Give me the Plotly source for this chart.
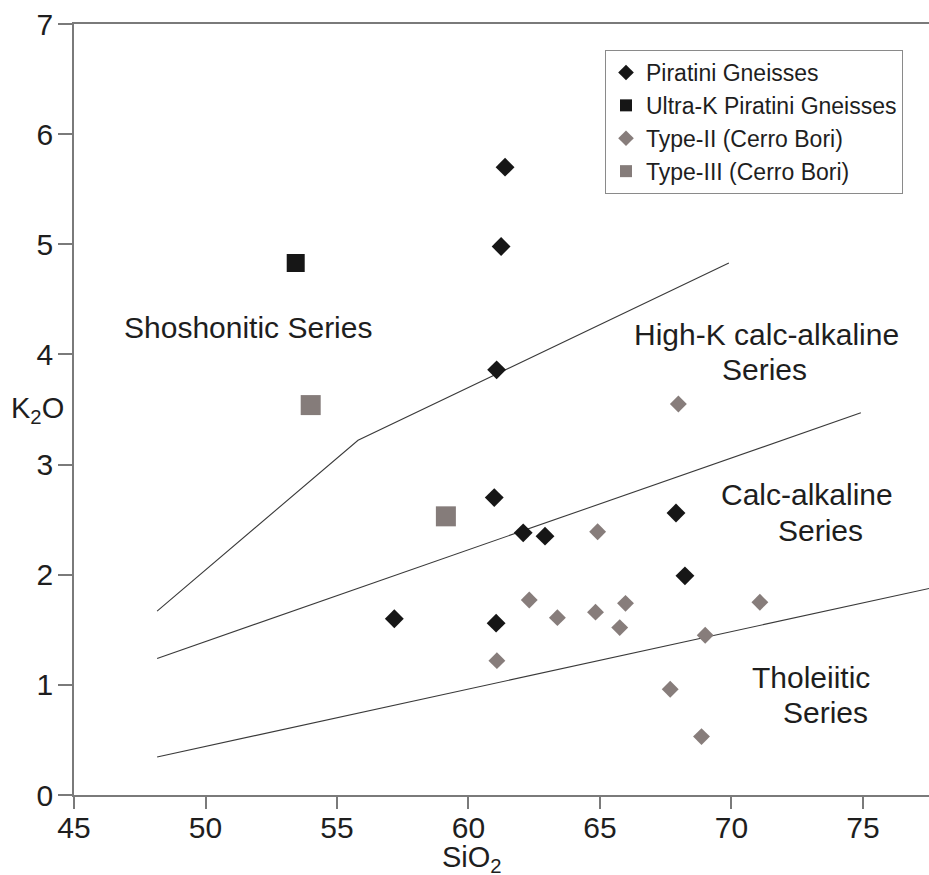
import plotly.graph_objects as go

# --- data ---
piratini_x = [61.39, 61.24, 61.07, 60.98, 62.08, 62.91, 67.89, 68.23, 57.18, 61.05]
piratini_y = [5.70, 4.98, 3.86, 2.70, 2.38, 2.35, 2.56, 1.99, 1.60, 1.56]

ultra_x = [53.43]
ultra_y = [4.83]

type2_x = [67.98, 64.91, 62.31, 63.38, 64.83, 65.97, 65.75, 69.00, 71.08, 61.08, 67.67, 68.86]
type2_y = [3.55, 2.39, 1.77, 1.61, 1.66, 1.74, 1.52, 1.45, 1.75, 1.22, 0.96, 0.53]

type3_x = [54.00, 59.14]
type3_y = [3.54, 2.53]

# series boundary lines
b1_x = [48.16, 55.8, 69.9]
b1_y = [1.67, 3.22, 4.83]
b2_x = [48.16, 74.92]
b2_y = [1.24, 3.47]
b3_x = [48.16, 77.6]
b3_y = [0.345, 1.88]

x_ticks = [45, 50, 55, 60, 65, 70, 75]
y_ticks = [0, 1, 2, 3, 4, 5, 6, 7]

FONT = "Liberation Sans, Arial, sans-serif"
TXT = "#1e1e1e"
AX = "#7a7a7a"
LINE = "#3a3a3a"

fig = go.Figure()

for bx, by in [(b1_x, b1_y), (b2_x, b2_y), (b3_x, b3_y)]:
    fig.add_trace(go.Scatter(x=bx, y=by, mode="lines",
                             line=dict(color=LINE, width=1.1),
                             showlegend=False, hoverinfo="skip"))

fig.add_trace(go.Scatter(x=piratini_x, y=piratini_y, mode="markers",
                         name="Piratini Gneisses",
                         marker=dict(symbol="diamond", size=14.5, color="#161616")))
fig.add_trace(go.Scatter(x=ultra_x, y=ultra_y, mode="markers",
                         name="Ultra-K Piratini Gneisses",
                         marker=dict(symbol="square", size=18, color="#161616")))
fig.add_trace(go.Scatter(x=type2_x, y=type2_y, mode="markers",
                         name="Type-II (Cerro Bori)",
                         marker=dict(symbol="diamond", size=13, color="#877d7b")))
fig.add_trace(go.Scatter(x=type3_x, y=type3_y, mode="markers",
                         name="Type-III (Cerro Bori)",
                         marker=dict(symbol="square", size=20, color="#857c7a")))

labels = [
    ("Shoshonitic Series", 51.6, 4.24),
    ("High-K calc-alkaline", 71.35, 4.18),
    ("Series", 71.25, 3.86),
    ("Calc-alkaline", 72.87, 2.725),
    ("Series", 73.40, 2.405),
    ("Tholeiitic", 73.02, 1.07),
    ("Series", 73.56, 0.75),
]
for t, x, y in labels:
    fig.add_annotation(x=x, y=y, text=t, showarrow=False,
                       font=dict(family=FONT, size=30, color=TXT),
                       xanchor="center", yanchor="middle")

# axis titles
fig.add_annotation(xref="paper", yref="paper", x=(472 - 74) / 855, y=(795 - 859) / 771,
                   text="SiO<sub>2</sub>", showarrow=False,
                   font=dict(family=FONT, size=29, color=TXT),
                   xanchor="center", yanchor="middle")
fig.add_annotation(xref="paper", yref="paper", x=(37 - 74) / 855, y=(795 - 410) / 771,
                   text="K<sub>2</sub>O", showarrow=False,
                   font=dict(family=FONT, size=29, color=TXT),
                   xanchor="center", yanchor="middle")

fig.update_xaxes(range=[45, 77.51], tickvals=x_ticks, ticks="outside", ticklen=12,
                 tickcolor=AX, tickwidth=1.5, showline=True, linecolor=AX, linewidth=1.5,
                 mirror=True, showgrid=False, zeroline=False, ticklabelstandoff=-7,
                 tickfont=dict(family=FONT, size=30, color=TXT))
fig.update_yaxes(range=[0, 7], tickvals=y_ticks, ticks="outside", ticklen=14,
                 tickcolor=AX, tickwidth=1.5, showline=True, linecolor=AX, linewidth=1.5,
                 showgrid=False, zeroline=False, ticklabelstandoff=-1,
                 tickfont=dict(family=FONT, size=30, color=TXT))

fig.update_layout(
    width=929, height=875,
    margin=dict(l=74, r=0, t=24, b=80),
    plot_bgcolor="white", paper_bgcolor="white",
    showlegend=True,
    legend=dict(x=(605 - 74) / 855, y=(795 - 50) / 771, xanchor="left", yanchor="top",
                bordercolor="#8a8a8a", borderwidth=1, bgcolor="white",
                itemsizing="constant", tracegroupgap=0,
                font=dict(family=FONT, size=23, color=TXT)),
)

fig.write_html("out.html")
